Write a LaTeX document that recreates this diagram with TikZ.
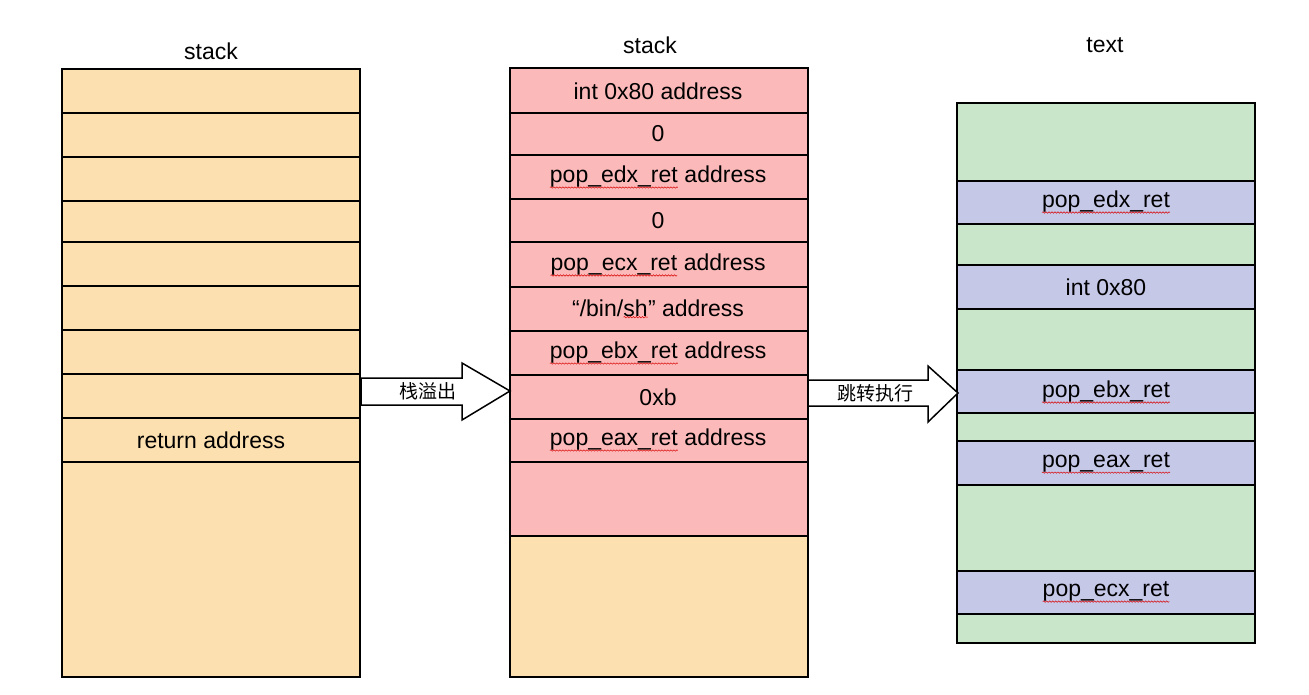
\documentclass[tikz,border=0pt]{standalone}
\usepackage{fontspec}
\setmainfont{Liberation Sans}
\newfontfamily\cjk{Noto Sans CJK SC}
\usetikzlibrary{decorations.pathmorphing}
\definecolor{peach}{HTML}{FDE0B0}
\definecolor{pinkc}{HTML}{FBB9B9}
\definecolor{greenc}{HTML}{C9E6CA}
\definecolor{bluec}{HTML}{C6C8E8}
\newcommand\wv[1]{\tikz[baseline=(w.base)]{\node[inner sep=0pt,outer sep=0pt](w){#1};\draw[red!85!black,decorate,decoration={snake,amplitude=0.7pt,segment length=3pt},line width=0.5pt]([yshift=-0.5pt]w.south west)--([yshift=-0.5pt]w.south east);}}
\begin{document}
\begin{tikzpicture}[x=1pt,y=-1pt,
  box/.style={draw=black,line width=1.5pt},
  lbl/.style={font=\fontsize{23}{25}\selectfont,inner sep=0pt},
  clbl/.style={font=\cjk\fontsize{19}{21}\selectfont,inner sep=0pt},
  barrow/.style={draw=black,line width=1.5pt,fill=white}]
\useasboundingbox (0,0) rectangle (1309,695);
% left stack
\fill[peach] (62,69) rectangle (360,677);
\foreach \y in {113,157,201,242,286,330,374,418,462} \draw[box] (62,\y)--(360,\y);
\draw[box] (62,69) rectangle (360,677);
\node[lbl] (t1) at (211,51) {stack};
\node[lbl] (l9) at (211,440) {return address};
% middle stack
\fill[peach] (510,68) rectangle (808,677);
\fill[pinkc] (510,68) rectangle (808,536);
\foreach \y in {113,155,199,242,287,331,375,419,462,536} \draw[box] (510,\y)--(808,\y);
\draw[box] (510,68) rectangle (808,677);
\node[lbl] (t2) at (650,45) {stack};
\node[lbl] (m1) at (658,91) {int 0x80 address};
\node[lbl] (m2) at (658,134) {0};
\node[lbl] (m3) at (658,177) {\wv{pop\_edx\_ret} address};
\node[lbl] (m4) at (658,221) {0};
\node[lbl] (m5) at (658,265) {\wv{pop\_ecx\_ret} address};
\node[lbl] (m6) at (658,309) {“/bin/\wv{sh}” address};
\node[lbl] (m7) at (658,353) {\wv{pop\_ebx\_ret} address};
\node[lbl] (m8) at (658,397) {0xb};
\node[lbl] (m9) at (658,440) {\wv{pop\_eax\_ret} address};
% right text
\fill[greenc] (957,103) rectangle (1255,643);
\foreach \a/\b in {181/224,265/309,370/413,441/485,571/614}
  {\fill[bluec] (957,\a) rectangle (1255,\b); \draw[box] (957,\a)--(1255,\a); \draw[box] (957,\b)--(1255,\b);}
\draw[box] (957,103) rectangle (1255,643);
\node[lbl] (t3) at (1105,45) {text};
\node[lbl] (r1) at (1106,202) {\wv{pop\_edx\_ret}};
\node[lbl] (r2) at (1106,287) {int 0x80};
\node[lbl] (r3) at (1106,392) {\wv{pop\_ebx\_ret}};
\node[lbl] (r4) at (1106,463) {\wv{pop\_eax\_ret}};
\node[lbl] (r5) at (1106,592) {\wv{pop\_ecx\_ret}};
% block arrows
\draw[barrow] (361,378)--(462,378)--(462,363)--(510,391)--(462,420)--(462,405)--(361,405)--cycle;
\node[clbl] (a1) at (428,391) {栈溢出};
\draw[barrow] (808,380)--(928,380)--(928,366)--(958,393)--(928,422)--(928,406)--(808,406)--cycle;
\node[clbl] (a2) at (875,393) {跳转执行};
\end{tikzpicture}
\end{document}
